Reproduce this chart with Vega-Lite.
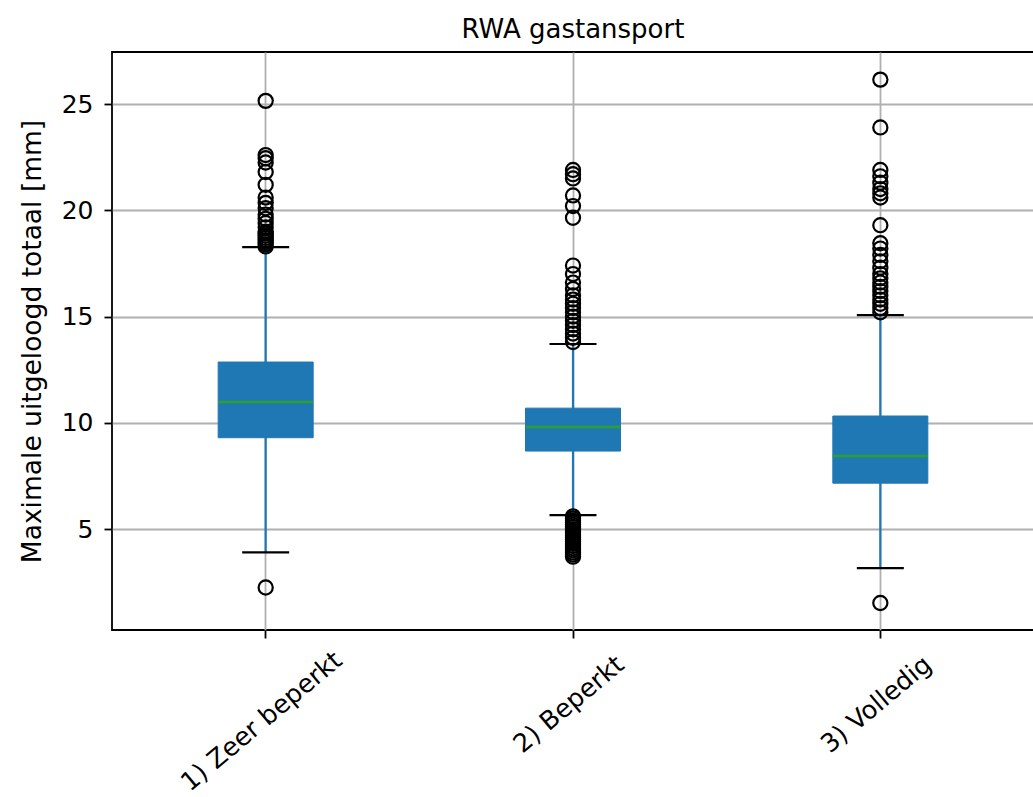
{
  "$schema": "https://vega.github.io/schema/vega-lite/v6.json",
  "autosize": "none",
  "padding": {"left": 112, "top": 52, "right": 0, "bottom": 167},
  "width": 922,
  "height": 578,
  "background": "white",
  "title": {"text": "RWA gastansport", "font": "DejaVu Sans", "fontSize": 26, "fontWeight": "normal", "color": "black", "anchor": "middle", "baseline": "alphabetic", "offset": -12},
  "datasets": {
    "boxes": [
      {"cat": "1) Zeer beperkt", "lower": 3.9, "q1": 9.3, "median": 10.98, "q3": 12.86, "upper": 18.27},
      {"cat": "2) Beperkt", "lower": 5.66, "q1": 8.67, "median": 9.8, "q3": 10.69, "upper": 13.71},
      {"cat": "3) Volledig", "lower": 3.16, "q1": 7.16, "median": 8.44, "q3": 10.32, "upper": 15.07}
    ],
    "outliers": [
      {"cat": "1) Zeer beperkt", "v": 25.15}, {"cat": "1) Zeer beperkt", "v": 22.6}, {"cat": "1) Zeer beperkt", "v": 22.45},
      {"cat": "1) Zeer beperkt", "v": 22.25}, {"cat": "1) Zeer beperkt", "v": 21.8}, {"cat": "1) Zeer beperkt", "v": 21.2},
      {"cat": "1) Zeer beperkt", "v": 20.6}, {"cat": "1) Zeer beperkt", "v": 20.35}, {"cat": "1) Zeer beperkt", "v": 20.1},
      {"cat": "1) Zeer beperkt", "v": 19.8}, {"cat": "1) Zeer beperkt", "v": 19.6}, {"cat": "1) Zeer beperkt", "v": 19.4},
      {"cat": "1) Zeer beperkt", "v": 19.2}, {"cat": "1) Zeer beperkt", "v": 19.0}, {"cat": "1) Zeer beperkt", "v": 18.9},
      {"cat": "1) Zeer beperkt", "v": 18.8}, {"cat": "1) Zeer beperkt", "v": 18.7}, {"cat": "1) Zeer beperkt", "v": 18.6},
      {"cat": "1) Zeer beperkt", "v": 18.5}, {"cat": "1) Zeer beperkt", "v": 18.4}, {"cat": "1) Zeer beperkt", "v": 18.3},
      {"cat": "1) Zeer beperkt", "v": 2.25},
      {"cat": "2) Beperkt", "v": 21.9}, {"cat": "2) Beperkt", "v": 21.7}, {"cat": "2) Beperkt", "v": 21.5},
      {"cat": "2) Beperkt", "v": 20.7}, {"cat": "2) Beperkt", "v": 20.2}, {"cat": "2) Beperkt", "v": 19.65},
      {"cat": "2) Beperkt", "v": 17.4}, {"cat": "2) Beperkt", "v": 17.0}, {"cat": "2) Beperkt", "v": 16.6},
      {"cat": "2) Beperkt", "v": 16.3}, {"cat": "2) Beperkt", "v": 16.0}, {"cat": "2) Beperkt", "v": 15.8},
      {"cat": "2) Beperkt", "v": 15.6}, {"cat": "2) Beperkt", "v": 15.4}, {"cat": "2) Beperkt", "v": 15.2},
      {"cat": "2) Beperkt", "v": 15.0}, {"cat": "2) Beperkt", "v": 14.8}, {"cat": "2) Beperkt", "v": 14.6},
      {"cat": "2) Beperkt", "v": 14.4}, {"cat": "2) Beperkt", "v": 14.2}, {"cat": "2) Beperkt", "v": 14.0},
      {"cat": "2) Beperkt", "v": 13.8},
      {"cat": "2) Beperkt", "v": 5.6}, {"cat": "2) Beperkt", "v": 5.5}, {"cat": "2) Beperkt", "v": 5.4},
      {"cat": "2) Beperkt", "v": 5.3}, {"cat": "2) Beperkt", "v": 5.2}, {"cat": "2) Beperkt", "v": 5.1},
      {"cat": "2) Beperkt", "v": 5.0}, {"cat": "2) Beperkt", "v": 4.9}, {"cat": "2) Beperkt", "v": 4.8},
      {"cat": "2) Beperkt", "v": 4.7}, {"cat": "2) Beperkt", "v": 4.6}, {"cat": "2) Beperkt", "v": 4.5},
      {"cat": "2) Beperkt", "v": 4.4}, {"cat": "2) Beperkt", "v": 4.3}, {"cat": "2) Beperkt", "v": 4.2},
      {"cat": "2) Beperkt", "v": 4.1}, {"cat": "2) Beperkt", "v": 4.0}, {"cat": "2) Beperkt", "v": 3.9},
      {"cat": "2) Beperkt", "v": 3.8}, {"cat": "2) Beperkt", "v": 3.7},
      {"cat": "3) Volledig", "v": 26.15}, {"cat": "3) Volledig", "v": 23.9}, {"cat": "3) Volledig", "v": 21.9},
      {"cat": "3) Volledig", "v": 21.6}, {"cat": "3) Volledig", "v": 21.3}, {"cat": "3) Volledig", "v": 21.0},
      {"cat": "3) Volledig", "v": 20.8}, {"cat": "3) Volledig", "v": 20.6}, {"cat": "3) Volledig", "v": 19.3},
      {"cat": "3) Volledig", "v": 18.45}, {"cat": "3) Volledig", "v": 18.2}, {"cat": "3) Volledig", "v": 17.9},
      {"cat": "3) Volledig", "v": 17.6}, {"cat": "3) Volledig", "v": 17.3}, {"cat": "3) Volledig", "v": 17.0},
      {"cat": "3) Volledig", "v": 16.8}, {"cat": "3) Volledig", "v": 16.6}, {"cat": "3) Volledig", "v": 16.4},
      {"cat": "3) Volledig", "v": 16.2}, {"cat": "3) Volledig", "v": 16.0}, {"cat": "3) Volledig", "v": 15.8},
      {"cat": "3) Volledig", "v": 15.6}, {"cat": "3) Volledig", "v": 15.4}, {"cat": "3) Volledig", "v": 15.2},
      {"cat": "3) Volledig", "v": 1.52}
    ]
  },
  "encoding": {
    "x": {
      "field": "cat", "type": "nominal", "title": null,
      "sort": ["1) Zeer beperkt", "2) Beperkt", "3) Volledig"],
      "scale": {"type": "band", "domain": ["1) Zeer beperkt", "2) Beperkt", "3) Volledig"], "paddingInner": 0, "paddingOuter": 0},
      "axis": {
        "bandPosition": 0.5, "grid": true, "gridColor": "#b0b0b0", "gridWidth": 1.8,
        "domain": false, "ticks": true, "tickColor": "black", "tickSize": 8, "tickWidth": 1.8,
        "labelAngle": -40, "labelAlign": "center", "labelBaseline": "middle",
        "labelFont": "DejaVu Sans", "labelFontSize": 25.5, "labelColor": "black",
        "labelOffset": -4,
        "labelPadding": {"condition": {"test": "datum.value === '1) Zeer beperkt'", "value": 83}, "value": 66},
        "labelOverlap": false, "labelFlush": false, "labelBound": false, "labelLimit": 0
      }
    }
  },
  "layer": [
    {
      "data": {"name": "boxes"},
      "mark": {"type": "rule", "color": "#1f77b4", "strokeWidth": 2.2},
      "encoding": {
        "y": {
          "field": "lower", "type": "quantitative", "title": "Maximale uitgeloogd totaal [mm]",
          "scale": {"domain": [0.25, 27.45], "nice": false, "zero": false},
          "axis": {
            "values": [5, 10, 15, 20, 25], "grid": true, "gridColor": "#b0b0b0", "gridWidth": 1.8,
            "domain": false, "tickColor": "black", "tickSize": 8, "tickWidth": 1.8,
            "labelFont": "DejaVu Sans", "labelFontSize": 25, "labelColor": "black", "labelPadding": 11,
            "titleFont": "DejaVu Sans", "titleFontSize": 26.5, "titleFontWeight": "normal", "titleColor": "black", "titlePadding": 15
          }
        },
        "y2": {"field": "upper"}
      }
    },
    {
      "data": {"name": "boxes"},
      "mark": {"type": "bar", "size": 95, "color": "#1f77b4", "stroke": "#1f77b4", "strokeWidth": 1},
      "encoding": {
        "y": {"field": "q1", "type": "quantitative"},
        "y2": {"field": "q3"}
      }
    },
    {
      "data": {"name": "boxes"},
      "mark": {"type": "tick", "size": 95, "thickness": 2.4, "color": "#2ca02c", "opacity": 1},
      "encoding": {"y": {"field": "median", "type": "quantitative"}}
    },
    {
      "data": {"name": "boxes"},
      "mark": {"type": "tick", "size": 47, "thickness": 2.2, "color": "black", "opacity": 1},
      "encoding": {"y": {"field": "lower", "type": "quantitative"}}
    },
    {
      "data": {"name": "boxes"},
      "mark": {"type": "tick", "size": 47, "thickness": 2.2, "color": "black", "opacity": 1},
      "encoding": {"y": {"field": "upper", "type": "quantitative"}}
    },
    {
      "data": {"name": "outliers"},
      "mark": {"type": "point", "shape": "circle", "filled": false, "stroke": "black", "strokeWidth": 2.2, "size": 200, "opacity": 1},
      "encoding": {"y": {"field": "v", "type": "quantitative"}}
    }
  ],
  "config": {
    "view": {"stroke": "black", "strokeWidth": 1.8},
    "font": "DejaVu Sans"
  }
}
